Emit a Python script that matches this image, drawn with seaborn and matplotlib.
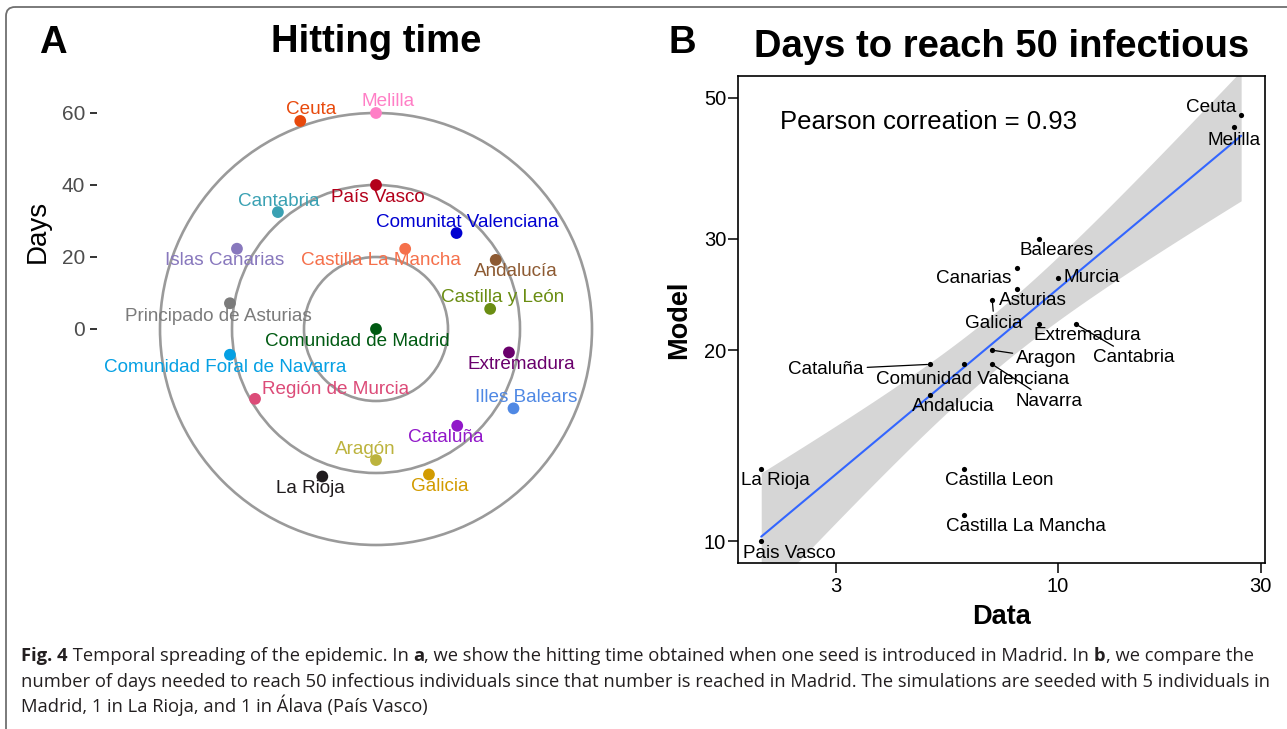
import numpy as np
import pandas as pd
import seaborn as sns
import matplotlib.pyplot as plt
from matplotlib.patches import Circle, FancyBboxPatch

# ---------------- panel A: hitting time around Madrid ----------------
regions_a = ["Comunidad de Madrid", "Melilla", "Ceuta", "País Vasco", "Cantabria",
             "Comunitat Valenciana", "Islas Canarias", "Castilla La Mancha", "Andalucía",
             "Principado de Asturias", "Castilla y León", "Comunidad Foral de Navarra",
             "Extremadura", "Región de Murcia", "Illes Balears", "Cataluña", "Aragón",
             "Galicia", "La Rioja"]
hitting_days = [0, 60, 61.5, 40, 42.4, 34.8, 44.6, 23.7, 38.4, 41.2, 32.2, 41.2,
                37.5, 38.8, 44.1, 35.1, 36.4, 43.0, 43.6]
angle_deg = [0, 90, 110, 90, 130, 50, 150, 70, 30, 170, 10, 190,
             350, 210, 330, 310, 270, 290, 250]
colors_a = ["#005a12", "#ff7fc6", "#e8490c", "#b3001b", "#3aa1b3",
            "#0000d1", "#8878bd", "#f5704b", "#8d5a32",
            "#7b7b7b", "#6a8d12", "#05a0e3",
            "#6a006c", "#dc4b78", "#4f88e4", "#9118c9", "#bcb33d",
            "#d29b00", "#201c1e"]
ring_days = [20, 40, 60]
ticks_a = [0, 20, 40, 60]

# ---------------- panel B: days to reach 50 infectious ----------------
regions_b = ["Ceuta", "Melilla", "Baleares", "Canarias", "Murcia", "Asturias", "Galicia",
             "Extremadura", "Cantabria", "Aragon", "Cataluña", "Comunidad Valenciana",
             "Navarra", "Andalucia", "La Rioja", "Castilla Leon", "Castilla La Mancha",
             "Pais Vasco"]
days_data = [27, 26, 9, 8, 10, 8, 7, 9, 11, 7, 5, 6, 7, 5, 2, 6, 6, 2]
days_model = [47, 45, 30, 27, 26, 25, 24, 22, 22, 20, 19, 19, 19, 17, 13, 13, 11, 10]
xticks_b = [3, 10, 30]
yticks_b = [10, 20, 30, 50]
pearson_r = 0.93

# label offsets in pixels (repel-like placement)
off_a = {"Comunidad de Madrid": (-19, -12), "Melilla": (12, 11), "Ceuta": (11, 11),
         "País Vasco": (2, -12), "Cantabria": (1, 11), "Comunitat Valenciana": (11, 11),
         "Islas Canarias": (-12, -12), "Castilla La Mancha": (-24, -12),
         "Andalucía": (20, -12), "Principado de Asturias": (-12, -13),
         "Castilla y León": (12, 11), "Comunidad Foral de Navarra": (-5, -13),
         "Extremadura": (12, -12), "Región de Murcia": (81, 9), "Illes Balears": (13, 11),
         "Cataluña": (-11, -12), "Aragón": (-11, 11), "Galicia": (11, -12),
         "La Rioja": (-12, -12)}
off_b = {"Ceuta": (-30, 8), "Melilla": (0, -13), "Baleares": (18, -12), "Canarias": (-43, -11),
         "Murcia": (34, 0), "Asturias": (16, -12), "Galicia": (2, -23), "Extremadura": (49, -12),
         "Cantabria": (58, -34), "Aragon": (54, -8), "Cataluña": (-104, -5),
         "Comunidad Valenciana": (9, -15), "Navarra": (57, -37), "Andalucia": (23, -12),
         "La Rioja": (14, -12), "Castilla Leon": (35, -12), "Castilla La Mancha": (62, -12),
         "Pais Vasco": (28, -12)}
with_segment = {"Galicia", "Cantabria", "Aragon", "Cataluña", "Navarra"}

sns.set_style("white")
plt.rcParams["font.family"] = ["Liberation Sans", "DejaVu Sans"]
plt.rcParams["text.color"] = "black"
plt.rcParams["axes.labelcolor"] = "black"

W, H = 1287, 729
fig = plt.figure(figsize=(W / 100, H / 100), dpi=100)


def fx(px):
    return px / W


def fy(py):
    return 1 - py / H


# frame + caption layer
cap = fig.add_axes([0, 0, 1, 1], zorder=-1)
cap.set_xlim(0, W)
cap.set_ylim(H, 0)
cap.axis("off")
cap.add_patch(FancyBboxPatch((6, 7), 1320, 760, boxstyle="round,pad=0,rounding_size=9",
                             fill=False, ec="#6f6f6f", lw=1.3))

# ---------------- panel A ----------------
axA = fig.add_axes([fx(97), fy(552), fx(645) - fx(97), fy(84) - fy(552)])
th = np.deg2rad(angle_deg)
dfa = pd.DataFrame({"region": regions_a,
                    "x": np.array(hitting_days) * np.cos(th),
                    "y": np.array(hitting_days) * np.sin(th)})
pal_a = dict(zip(regions_a, colors_a))

for r in ring_days:
    axA.add_patch(Circle((0, 0), r, fill=False, ec="#9a9a9a", lw=1.9, zorder=1))

sns.scatterplot(data=dfa, x="x", y="y", hue="region", palette=pal_a, s=72,
                linewidth=0, legend=False, ax=axA, zorder=3)
for _, row in dfa.iterrows():
    axA.annotate(row["region"], (row["x"], row["y"]), xytext=off_a[row["region"]],
                 textcoords="offset pixels", ha="center", va="center",
                 fontsize=13.6, color=pal_a[row["region"]], zorder=4)

axA.set_xlim((97 - 376) / 3.6, (645 - 376) / 3.6)
axA.set_ylim((329 - 552) / 3.6, (329 - 84) / 3.6)
for s in axA.spines.values():
    s.set_visible(False)
axA.set_xticks([])
axA.set_yticks(ticks_a)
axA.set_yticklabels([str(t) for t in ticks_a])
axA.tick_params(axis="y", left=True, length=4.7, width=1.4, color="#333333",
                pad=4, labelsize=15, labelcolor="#4d4d4d")
axA.set_xlabel("")
axA.set_ylabel("")
fig.text(fx(37.5), fy(231), "Days", rotation=90, ha="center", va="center", fontsize=20)
fig.text(fx(376.5), fy(42), "Hitting time", ha="center", va="center",
         fontsize=27.5, fontweight="bold")
fig.text(fx(53), fy(43), "A", ha="center", va="center", fontsize=27.5, fontweight="bold")

# ---------------- panel B ----------------
axB = fig.add_axes([fx(738), fy(563), fx(1265) - fx(738), fy(76) - fy(563)])
dfb = pd.DataFrame({"region": regions_b,
                    "lx": np.log10(days_data),
                    "ly": np.log10(days_model)})

# linear fit on log-log scale with a t-based 95% confidence band
b1, b0 = np.polyfit(dfb["lx"], dfb["ly"], 1)
n = len(dfb)
resid = dfb["ly"] - (b0 + b1 * dfb["lx"])
s_res = np.sqrt((resid ** 2).sum() / (n - 2))
sxx = ((dfb["lx"] - dfb["lx"].mean()) ** 2).sum()
grid = np.linspace(dfb["lx"].min(), dfb["lx"].max(), 200)
se = s_res * np.sqrt(1 / n + (grid - dfb["lx"].mean()) ** 2 / sxx)
t975 = 2.1199  # t quantile, 16 dof
fit = b0 + b1 * grid
axB.fill_between(grid, fit - t975 * se, fit + t975 * se, color="#d6d6d6", lw=0, zorder=1)

sns.regplot(data=dfb, x="lx", y="ly", scatter=False, ci=None,
            color="#3366ff", line_kws={"lw": 1.5, "zorder": 3}, ax=axB)

sns.scatterplot(data=dfb, x="lx", y="ly", color="black", s=14, linewidth=0,
                ax=axB, zorder=4)
for _, row in dfb.iterrows():
    name = row["region"]
    kw = {}
    if name in with_segment:
        kw["arrowprops"] = dict(arrowstyle="-", color="black", lw=0.9,
                                shrinkA=0, shrinkB=2)
    axB.annotate(name, (row["lx"], row["ly"]), xytext=off_b[name],
                 textcoords="offset pixels", ha="center", va="center",
                 fontsize=13.6, color="black", zorder=5, **kw)

axB.text((780 - 738) / 527, (563 - 122) / 487, f"Pearson correation = {pearson_r:.2f}",
         transform=axB.transAxes, ha="left", va="center", fontsize=18.5)

axB.set_xlim(np.log10(3) - 98 / 424.6, 1 + 207 / 424.6)
axB.set_ylim(1 - 22 / 633.8, np.log10(50) + 22 / 633.8)
axB.set_xticks(np.log10(xticks_b))
axB.set_xticklabels([str(t) for t in xticks_b])
axB.set_yticks(np.log10(yticks_b))
axB.set_yticklabels([str(t) for t in yticks_b])
axB.tick_params(axis="both", length=7, width=1.1, color="black", labelsize=14.5,
                labelcolor="black", bottom=True, left=True)
axB.tick_params(axis="y", pad=1.5)
axB.tick_params(axis="x", pad=3)
for s in axB.spines.values():
    s.set_visible(True)
    s.set_color("black")
    s.set_linewidth(1.2)
axB.set_xlabel("")
axB.set_ylabel("")
fig.text(fx(679), fy(320), "Model", rotation=90, ha="center", va="center",
         fontsize=19.5, fontweight="bold")
fig.text(fx(1001), fy(617), "Data", ha="center", va="center",
         fontsize=19.5, fontweight="bold")
fig.text(fx(1001.5), fy(47), "Days to reach 50 infectious", ha="center", va="center",
         fontsize=27.5, fontweight="bold")
fig.text(fx(682), fy(43), "B", ha="center", va="center", fontsize=27.5, fontweight="bold")

# ---------------- caption ----------------
caption = [
    [("Fig. 4", True), (" Temporal spreading of the epidemic. In ", False), ("a", True),
     (", we show the hitting time obtained when one seed is introduced in Madrid. In ", False),
     ("b", True), (", we compare the", False)],
    [("number of days needed to reach 50 infectious individuals since that number is reached "
      "in Madrid. The simulations are seeded with 5 individuals in", False)],
    [("Madrid, 1 in La Rioja, and 1 in Álava (País Vasco)", False)],
]
line_y = [661, 687, 712]
cap_font = ["Open Sans", "DejaVu Sans"]
for parts, yb in zip(caption, line_y):
    prev = None
    for txt, bold in parts:
        weight = "bold" if bold else "normal"
        if prev is None:
            prev = cap.text(21, yb, txt, fontsize=13.2, family=cap_font, color="#231f20",
                            fontweight=weight, va="baseline", ha="left")
        else:
            prev = cap.annotate(txt, xy=(1, 0), xycoords=prev, va="bottom", ha="left",
                                fontsize=13.2, family=cap_font, color="#231f20",
                                fontweight=weight)

fig.savefig("out.png", dpi=100)
